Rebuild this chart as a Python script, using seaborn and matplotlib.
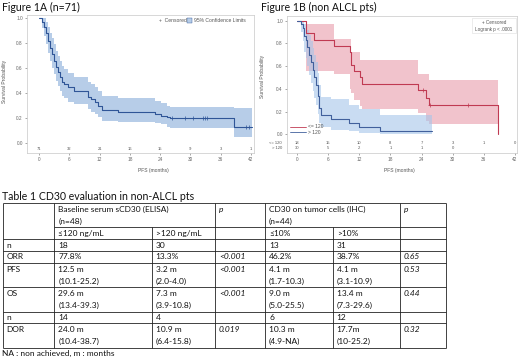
import numpy as np
import matplotlib
matplotlib.use("Agg")
import matplotlib.pyplot as plt
import seaborn as sns

sns.set_theme(style="white")
plt.rcParams['font.family'] = ['Lato', 'DejaVu Sans']

# --- Figure 1A data (all patients) ---
time_a = [0, 0.6, 1.0, 1.4, 1.8, 2.2, 2.6, 3.0, 3.4, 3.8, 4.2, 4.6, 5.0, 5.8, 7.0,
          9.8, 10.4, 11.0, 11.6, 12.4, 15.6, 23.0, 24.2, 25.3, 26.0, 38.6, 42.2]
surv_a = [1.0, 0.97, 0.93, 0.88, 0.82, 0.76, 0.71, 0.66, 0.61, 0.57, 0.53, 0.49, 0.47, 0.445, 0.415,
          0.37, 0.35, 0.33, 0.30, 0.265, 0.25, 0.235, 0.22, 0.21, 0.20, 0.13, 0.13]
upper_a = [1.0, 1.0, 1.0, 0.97, 0.93, 0.88, 0.84, 0.79, 0.74, 0.70, 0.66, 0.62, 0.59, 0.56, 0.53,
           0.49, 0.47, 0.45, 0.42, 0.38, 0.36, 0.34, 0.32, 0.30, 0.29, 0.28, 0.28]
lower_a = [1.0, 0.92, 0.86, 0.79, 0.72, 0.66, 0.60, 0.55, 0.50, 0.46, 0.42, 0.38, 0.36, 0.33, 0.31,
           0.27, 0.25, 0.23, 0.21, 0.18, 0.17, 0.16, 0.15, 0.13, 0.12, 0.05, 0.05]
cens_t_a = [26.3, 29.0, 30.5, 32.5, 32.9, 33.2, 41.0, 41.7]
cens_s_a = [0.20, 0.20, 0.20, 0.20, 0.20, 0.20, 0.13, 0.13]
risk_t = [0, 6, 12, 18, 24, 30, 36, 42]
risk_a = [71, 32, 21, 16, 15, 9, 3, 1]

# --- Figure 1B data (non ALCL, sCD30 <= 120 vs > 120) ---
time_r = [0, 1.7, 3.3, 7.1, 10.2, 10.4, 11.0, 12.2, 12.6, 23.3, 24.9, 25.5, 38.7]
surv_r = [1.0, 0.889, 0.833, 0.778, 0.722, 0.611, 0.556, 0.50, 0.444, 0.389, 0.315, 0.255, 0.0]
upper_r = [1.0, 0.97, 0.97, 0.84, 0.84, 0.72, 0.72, 0.65, 0.65, 0.53, 0.53, 0.475, 0.475]
lower_r = [1.0, 0.56, 0.56, 0.53, 0.40, 0.36, 0.30, 0.25, 0.22, 0.19, 0.12, 0.09, 0.09]
cens_t_r = [24.2, 25.7, 32.9]
cens_s_r = [0.389, 0.255, 0.255]

time_b = [0, 0.7, 1.1, 1.4, 1.7, 2.0, 2.4, 2.7, 3.0, 3.3, 3.7, 4.0, 4.3, 4.6, 6.6, 10.1, 12.0, 15.9, 26.1]
surv_b = [1.0, 0.967, 0.933, 0.867, 0.833, 0.767, 0.70, 0.633, 0.567, 0.50, 0.433, 0.333, 0.233,
          0.167, 0.133, 0.10, 0.067, 0.033, 0.033]
upper_b = [1.0, 1.0, 1.0, 0.97, 0.95, 0.92, 0.87, 0.82, 0.76, 0.70, 0.64, 0.54, 0.43, 0.33, 0.31,
           0.26, 0.22, 0.17, 0.17]
lower_b = [1.0, 0.90, 0.82, 0.72, 0.67, 0.60, 0.52, 0.45, 0.38, 0.32, 0.26, 0.18, 0.10, 0.06, 0.04,
           0.025, 0.01, 0.0, 0.0]
risk_r = [18, 15, 10, 8, 7, 3, 1, 0]
risk_b = [30, 5, 2, 1, 1, 0]

# --- Table data ---
row_labels = ["n", "ORR", "PFS", "OS", "n", "DOR"]
elisa_low = ["18", "77.8%", "12.5 m\n(10.1-25.2)", "29.6 m\n(13.4-39.3)", "14", "24.0 m\n(10.4-38.7)"]
elisa_high = ["30", "13.3%", "3.2 m\n(2.0-4.0)", "7.3 m\n(3.9-10.8)", "4", "10.9 m\n(6.4-15.8)"]
elisa_p = ["", "<0.001", "<0.001", "<0.001", "", "0.019"]
ihc_low = ["13", "46.2%", "4.1 m\n(1.7-10.3)", "9.0 m\n(5.0-25.5)", "6", "10.3 m\n(4.9-NA)"]
ihc_high = ["31", "38.7%", "4.1 m\n(3.1-10.9)", "13.4 m\n(7.3-29.6)", "12", "17.7m\n(10-25.2)"]
ihc_p = ["", "0.65", "0.53", "0.44", "", "0.32"]

W, H = 520, 358
fig = plt.figure(figsize=(W / 100, H / 100), dpi=100)

# overlay in pixel coordinates for titles and table
tab = fig.add_axes([0, 0, 1, 1])
tab.set_xlim(0, W)
tab.set_ylim(H, 0)
tab.axis('off')


def px_axes(l, t, r, b):
    return fig.add_axes([l / W, 1 - b / H, (r - l) / W, (b - t) / H])


def style_km(ax, xlim, ylim):
    ax.set_xlim(*xlim)
    ax.set_ylim(*ylim)
    ax.set_xticks(range(0, 43, 6))
    ax.set_yticks([0, 0.2, 0.4, 0.6, 0.8, 1.0])
    ax.set_yticklabels(["0.0", "0.2", "0.4", "0.6", "0.8", "1.0"])
    ax.tick_params(labelsize=3.4, colors='#666666', length=1.5, width=0.4, pad=1.5,
                   bottom=True, left=True)
    for s in ax.spines.values():
        s.set_color('#c8c8c8')
        s.set_linewidth(0.5)
    ax.set_xlabel("PFS (months)", fontsize=3.6, color='#555555', family='Liberation Sans')
    ax.set_ylabel("Survival Probability", fontsize=3.6, color='#555555', family='Liberation Sans')
    for lab in ax.get_xticklabels() + ax.get_yticklabels():
        lab.set_family('Liberation Sans')


small = dict(fontsize=3.0, color='#555555', family='Liberation Sans')
leg = dict(fontsize=3.6, color='#555555', family='Liberation Sans')

# ---------- Figure 1A ----------
axA = px_axes(27, 15, 254, 153)
axA.fill_between(time_a, lower_a, upper_a, step='post', color='#b7cde8', lw=0)
sns.lineplot(x=time_a, y=surv_a, drawstyle='steps-post', color='#2f5597', lw=0.8,
             ax=axA, legend=False)
axA.plot(cens_t_a, cens_s_a, '+', color='#2f5597', ms=2.5, mew=0.5)
style_km(axA, (-2.38, 42.6), (-0.08, 1.024))
axA.xaxis.set_label_coords(0.555, -0.11)
axA.yaxis.set_label_coords(-0.09, 0.52)
for t, n in zip(risk_t, risk_a):
    axA.text(t, -0.048, str(n), ha='center', va='center', **small)
axA.text(0.58, 0.96, "+  Censored", transform=axA.transAxes, ha='left', va='center', **leg)
axA.add_patch(plt.Rectangle((0.705, 0.943), 0.022, 0.034, transform=axA.transAxes,
                            facecolor='#b7cde8', edgecolor='#2f5597', lw=0.3))
axA.text(0.735, 0.96, "95% Confidence Limits", transform=axA.transAxes, ha='left', va='center', **leg)

# ---------- Figure 1B ----------
axB = px_axes(287, 16, 517, 153)
axB.fill_between(time_r, lower_r, upper_r, step='post', color='#f1c3cc', lw=0)
axB.fill_between(time_b, lower_b, upper_b, step='post', color='#a6c6ea', alpha=0.6, lw=0)
sns.lineplot(x=time_r, y=surv_r, drawstyle='steps-post', color='#c03a52', lw=0.8,
             ax=axB, legend=False)
sns.lineplot(x=time_b, y=surv_b, drawstyle='steps-post', color='#41609c', lw=0.8,
             ax=axB, legend=False)
axB.plot(cens_t_r, cens_s_r, '+', color='#c03a52', ms=2.5, mew=0.5)
style_km(axB, (-1.93, 42.4), (-0.165, 1.041))
axB.xaxis.set_label_coords(0.49, -0.11)
axB.yaxis.set_label_coords(-0.095, 0.56)
for t, n in zip(risk_t, risk_r):
    axB.text(t, -0.074, str(n), ha='center', va='center', **small)
for t, n in zip(risk_t, risk_b):
    axB.text(t, -0.123, str(n), ha='center', va='center', **small)
axB.text(-0.022, -0.074, "<= 120", transform=axB.get_yaxis_transform(), ha='right', va='center', **small)
axB.text(-0.022, -0.123, "> 120", transform=axB.get_yaxis_transform(), ha='right', va='center', **small)
axB.plot([-1.4, 1.7], [0.067, 0.067], color='#c03a52', lw=0.6)
axB.plot([-1.4, 1.7], [0.018, 0.018], color='#41609c', lw=0.6)
axB.text(2.1, 0.067, "<= 120", va='center', **leg)
axB.text(2.1, 0.018, "> 120", va='center', **leg)
axB.add_patch(plt.Rectangle((0.805, 0.875), 0.19, 0.11, transform=axB.transAxes,
                            facecolor='white', edgecolor='#dddddd', lw=0.4))
axB.text(0.9, 0.95, "+ Censored", transform=axB.transAxes, ha='center', va='center',
         fontsize=3.3, color='#555555', family='Liberation Sans')
axB.text(0.9, 0.905, "Logrank p < .0001", transform=axB.transAxes, ha='center', va='center',
         fontsize=3.3, color='#555555', family='Liberation Sans')

# ---------- Titles ----------
tab.text(2, 7, "Figure 1A (n=71)", fontsize=7.6, va='center', ha='left', color='#111111')
tab.text(261, 7, "Figure 1B (non ALCL pts)", fontsize=7.6, va='center', ha='left', color='#111111')
tab.text(2, 197, "Table 1 CD30 evaluation in non-ALCL pts", fontsize=7.6, va='center', ha='left',
         color='#111111')

# ---------- Table ----------
col_x = [2.7, 54.3, 151.7, 215, 265, 332.7, 400, 445.7]
row_y = [203.3, 227.3, 239.3, 251, 262.7, 287.3, 311.7, 323.3, 347.8]
lc = dict(color='#222222', lw=0.6)
tab.hlines(row_y[0], col_x[0], col_x[-1], **lc)
tab.hlines(row_y[1], col_x[1], col_x[-1], **lc)
tab.hlines(row_y[2:], col_x[0], col_x[-1], **lc)
for i, x in enumerate(col_x):
    if i in (2, 5):
        tab.vlines(x, row_y[1], row_y[-1], **lc)
    else:
        tab.vlines(x, row_y[0], row_y[-1], **lc)

tf = dict(fontsize=6, va='center', ha='left', color='#111111')
tab.text(col_x[1] + 4, row_y[0] + 6.5, "Baseline serum sCD30 (ELISA)", **tf)
tab.text(col_x[1] + 4, row_y[0] + 18.3, "(n=48)", **tf)
tab.text(col_x[3] + 4, row_y[0] + 6.5, "p", style='italic', **tf)
tab.text(col_x[4] + 4, row_y[0] + 6.5, "CD30 on tumor cells (IHC)", **tf)
tab.text(col_x[4] + 4, row_y[0] + 18.3, "(n=44)", **tf)
tab.text(col_x[6] + 4, row_y[0] + 6.5, "p", style='italic', **tf)
mid = (row_y[1] + row_y[2]) / 2
tab.text(col_x[1] + 4, mid, "\u2264120 ng/mL", **tf)
tab.text(col_x[2] + 4, mid, ">120 ng/mL", **tf)
tab.text(col_x[4] + 4, mid, "\u226410%", **tf)
tab.text(col_x[5] + 4, mid, ">10%", **tf)

columns = [row_labels, elisa_low, elisa_high, elisa_p, ihc_low, ihc_high, ihc_p]
for r in range(len(row_labels)):
    top = row_y[r + 2]
    single = (row_y[r + 3] - top) < 15
    for c, col in enumerate(columns):
        lines = col[r].split("\n")
        italic = c in (3, 6)
        for k, line in enumerate(lines):
            y = (top + row_y[r + 3]) / 2 if single else top + 6.3 + 12 * k
            tab.text(col_x[c] + 4, y, line, style='italic' if italic else 'normal', **tf)

tab.text(2, 353.2, "NA : non achieved, m : months", fontsize=6, va='center', ha='left', color='#111111')

fig.savefig("out.png", dpi=100)
